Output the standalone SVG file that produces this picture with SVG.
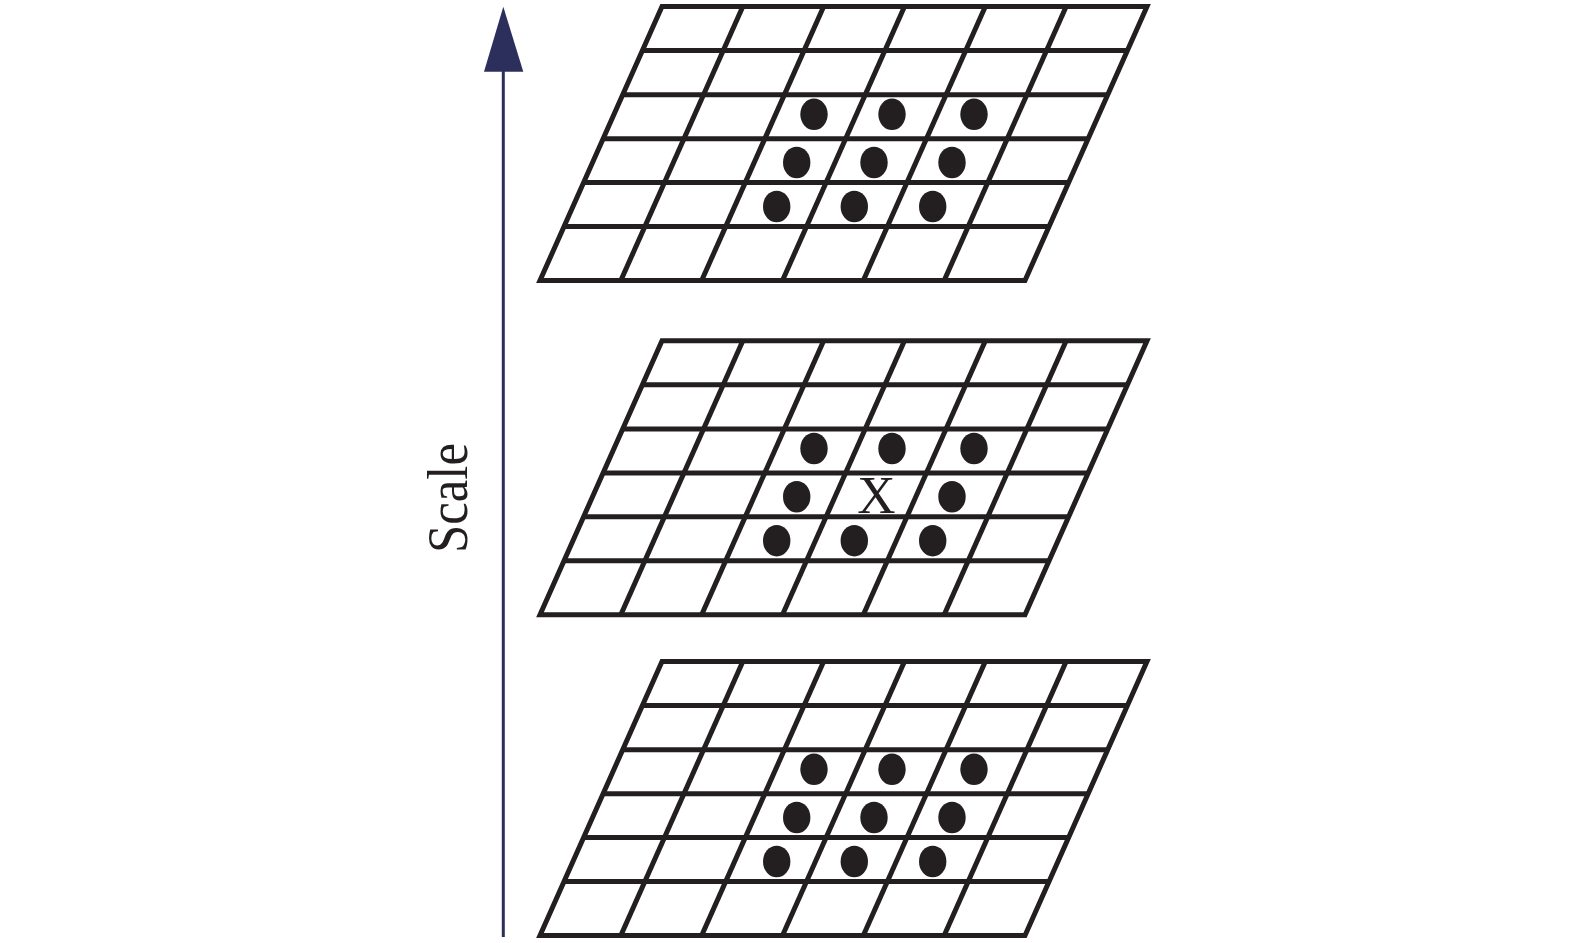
<svg xmlns="http://www.w3.org/2000/svg" xmlns:xlink="http://www.w3.org/1999/xlink" width="1575" height="943" viewBox="0 0 1575 943">
  <style>
    .grid line, .grid polygon { stroke: #231f20; stroke-width: 5; fill: none; stroke-linejoin: miter; }
    .dot { fill: #231f20; }
    .lbl { font-family: "Liberation Serif", "DejaVu Serif", serif; fill: #231f20; }
  </style>
  <defs>
    <g id="gridTpl" class="grid">
      <polygon points="0,0 485,0 363,274 -122,274"/>
      <line x1="-19.59" y1="44" x2="465.41" y2="44"/>
      <line x1="-39.32" y1="88.3" x2="445.68" y2="88.3"/>
      <line x1="-58.91" y1="132.3" x2="426.09" y2="132.3"/>
      <line x1="-78.37" y1="176" x2="406.63" y2="176"/>
      <line x1="-97.96" y1="220" x2="387.04" y2="220"/>
      <line x1="80.83" y1="0" x2="-41.17" y2="274"/>
      <line x1="161.67" y1="0" x2="39.67" y2="274"/>
      <line x1="242.5" y1="0" x2="120.5" y2="274"/>
      <line x1="323.33" y1="0" x2="201.33" y2="274"/>
      <line x1="404.17" y1="0" x2="282.17" y2="274"/>
    </g>
    <ellipse id="d" class="dot" rx="13.7" ry="15.8"/>
  </defs>

  <g id="connectors">
    <line x1="503.3" y1="70" x2="503.3" y2="937" stroke="#2c2f5b" stroke-width="3"/>
    <polygon points="503.3,6.7 484,71.7 523.3,71.7" fill="#2c2f5b"/>
  </g>

  <g id="scale-label">
    <text class="lbl" transform="translate(467,498) rotate(-90)" text-anchor="middle" font-size="57" textLength="110" lengthAdjust="spacingAndGlyphs">Scale</text>
  </g>

  <g id="layer-top" transform="translate(662,6.5)">
    <use xlink:href="#gridTpl"/>
    <use xlink:href="#d" x="152" y="107.8"/>
    <use xlink:href="#d" x="230" y="107.8"/>
    <use xlink:href="#d" x="312" y="107.8"/>
    <use xlink:href="#d" x="134.7" y="156"/>
    <use xlink:href="#d" x="212" y="156"/>
    <use xlink:href="#d" x="290" y="156"/>
    <use xlink:href="#d" x="114.7" y="200"/>
    <use xlink:href="#d" x="192.3" y="200"/>
    <use xlink:href="#d" x="270.7" y="200"/>
  </g>

  <g id="layer-middle" transform="translate(662,340.7)">
    <use xlink:href="#gridTpl"/>
    <use xlink:href="#d" x="152" y="107.8"/>
    <use xlink:href="#d" x="230" y="107.8"/>
    <use xlink:href="#d" x="312" y="107.8"/>
    <use xlink:href="#d" x="134.7" y="156"/>
    <text class="lbl" x="214.5" y="172.3" text-anchor="middle" font-size="53">X</text>
    <use xlink:href="#d" x="290" y="156"/>
    <use xlink:href="#d" x="114.7" y="200"/>
    <use xlink:href="#d" x="192.3" y="200"/>
    <use xlink:href="#d" x="270.7" y="200"/>
  </g>

  <g id="layer-bottom" transform="translate(662,661.5)">
    <use xlink:href="#gridTpl"/>
    <use xlink:href="#d" x="152" y="107.8"/>
    <use xlink:href="#d" x="230" y="107.8"/>
    <use xlink:href="#d" x="312" y="107.8"/>
    <use xlink:href="#d" x="134.7" y="156"/>
    <use xlink:href="#d" x="212" y="156"/>
    <use xlink:href="#d" x="290" y="156"/>
    <use xlink:href="#d" x="114.7" y="200"/>
    <use xlink:href="#d" x="192.3" y="200"/>
    <use xlink:href="#d" x="270.7" y="200"/>
  </g>
</svg>
